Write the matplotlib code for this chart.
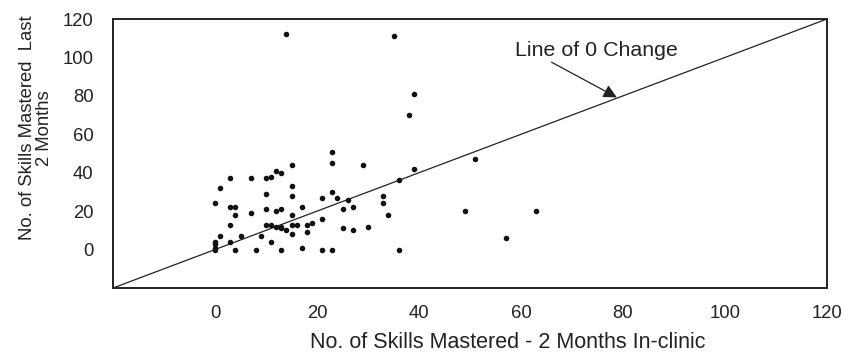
import matplotlib
matplotlib.use("Agg")
import matplotlib.pyplot as plt

plt.rcParams['font.family'] = ['Liberation Sans', 'DejaVu Sans']

# Skills mastered per child: in-clinic (x) vs. last two months (y)
in_clinic = [14, 35, 39, 38, 23, 23, 29, 15, 39, 3, 7, 10, 11, 12, 13, 1, 15, 15, 10, 23,
             21, 24, 26, 33, 36, 0, 3, 4, 4, 7, 10, 12, 13, 15, 17, 25, 27, 33, 34, 3,
             10, 11, 12, 13, 13, 14, 15, 16, 15, 18, 19, 21, 18, 25, 27, 30, 1, 5, 9, 3,
             11, 0, 0, 0, 0, 4, 8, 13, 17, 21, 23, 36, 51, 49, 57, 63]
last_two_months = [112, 111, 81, 70, 51, 45, 44, 44, 42, 37, 37, 37, 38, 41, 40, 32, 33, 28, 29, 30,
                   27, 27, 26, 28, 36, 24, 22, 22, 18, 19, 21, 20, 21, 18, 22, 21, 22, 24, 18, 13,
                   13, 13, 12, 12, 11, 10, 13, 13, 8, 13, 14, 16, 9, 11, 10, 12, 7, 7, 7, 4,
                   4, 4, 3, 1, 0, 0, 0, 0, 1, 0, 0, 0, 47, 20, 6, 20]

tick_values = [0, 20, 40, 60, 80, 100, 120]
axis_range = (-20, 120)

W, H = 856, 364
fig = plt.figure(figsize=(W / 100, H / 100), dpi=100)
ax = fig.add_axes([113 / W, (H - 288) / H, (827 - 113) / W, (288 - 19) / H])

ax.scatter(in_clinic, last_two_months, s=16, color='#111111', linewidths=0, zorder=3)

# Line of zero change (y = x)
ax.axline((0, 0), slope=1, color='#222222', lw=0.9, zorder=2)

ax.set_xlim(*axis_range)
ax.set_ylim(*axis_range)
ax.set_xticks(tick_values)
ax.set_yticks(tick_values)
ax.tick_params(length=0, labelsize=13.3, colors='#222222')
ax.tick_params(axis='x', pad=12)
ax.tick_params(axis='y', pad=14)
for s in ax.spines.values():
    s.set_linewidth(1.4)
    s.set_color('#222222')

ax.text(74.7, 103.4, 'Line of 0 Change', ha='center', va='center',
        fontsize=15.4, color='#222222')
ax.annotate('', xy=(78.8, 79.2), xytext=(66.0, 97.5),
            arrowprops=dict(arrowstyle='-|>', color='#222222', lw=0.9,
                            mutation_scale=20, shrinkA=0, shrinkB=0))

fig.text(508 / W, (H - 343) / H, 'No. of Skills Mastered - 2 Months In-clinic',
         ha='center', va='center', fontsize=15.5, color='#222222')
fig.text(36 / W, (H - 128) / H, 'No. of Skills Mastered  Last\n2 Months',
         ha='center', va='center', rotation=90, multialignment='center',
         fontsize=13.3, linespacing=1.0, color='#222222')

fig.savefig('out.png', dpi=100)
